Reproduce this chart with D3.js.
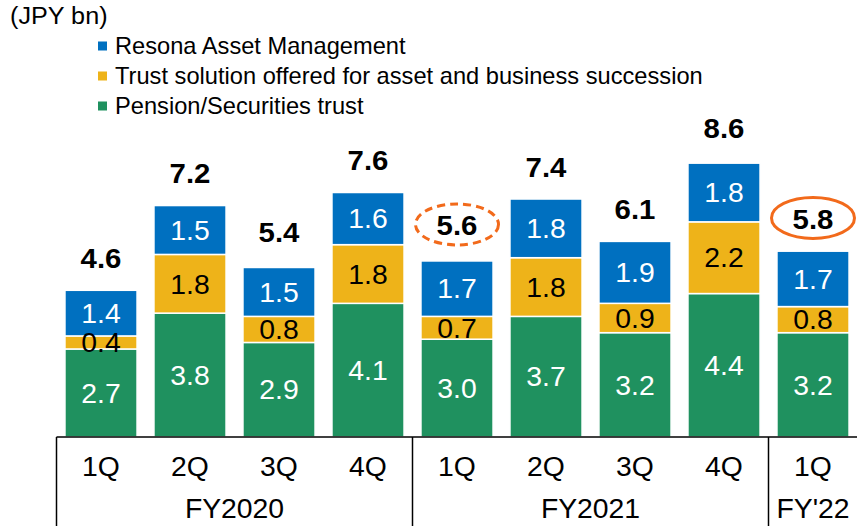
<!DOCTYPE html>
<html><head><meta charset="utf-8">
<script src="https://cdn.jsdelivr.net/npm/d3@7"></script>
<style>html,body{margin:0;padding:0;background:#fff;}svg{display:block;font-family:"Liberation Sans",Arial,sans-serif;}</style>
</head><body><svg id="c" width="857" height="527"></svg>
<script>
const categories = ["1Q","2Q","3Q","4Q","1Q","2Q","3Q","4Q","1Q"];
const groupLabels = ["FY2020","FY2021","FY'22"];
const groupSizes = [4,4,1];
const seriesNames = ["Pension/Securities trust","Trust solution offered for asset and business succession","Resona Asset Management"];
const pension = [2.7,3.8,2.9,4.1,3.0,3.7,3.2,4.4,3.2];
const trust   = [0.4,1.8,0.8,1.8,0.7,1.8,0.9,2.2,0.8];
const resona  = [1.4,1.5,1.5,1.6,1.7,1.8,1.9,1.8,1.7];
const totals  = [4.6,7.2,5.4,7.6,5.6,7.4,6.1,8.6,5.8];
const highlightIdx = [4,8];
const highlightDashed = [true,false];
const unitLabel = "(JPY bn)";

const colors = ["#1F915F","#EEB319","#0070C0"];
const labelColors = ["#fff","#000","#fff"];
const svg = d3.select("#c");
const baseY = 437;
const sx = 1.05;
const x = d3.scaleBand().domain(d3.range(categories.length)).range([56.5,857.5]).paddingInner(0.19).paddingOuter(0.095);
const y = d3.scaleLinear().domain([0,10]).range([baseY, baseY-326]);

function stretchText(sel, fx, fy){
  return sel.attr("transform",(d,i)=>`translate(${fx(d,i)},${fy(d,i)}) scale(${sx},1)`).attr("x",0).attr("y",0);
}

const rows = categories.map((c,i)=>({i, p:pension[i], t:trust[i], r:resona[i]}));
const stack = d3.stack().keys(["p","t","r"])(rows);

stack.forEach((layer,k)=>{
  svg.append("g").selectAll("rect").data(layer).enter().append("rect")
    .attr("x",d=>x(d.data.i)).attr("width",x.bandwidth())
    .attr("y",d=>y(d[1])).attr("height",d=>y(d[0])-y(d[1]))
    .attr("fill",colors[k]).attr("stroke","#fff").attr("stroke-width",1.5);
});
stack.forEach((layer,k)=>{
  stretchText(svg.append("g").selectAll("text").data(layer).enter().append("text"),
      d=>x(d.data.i)+x.bandwidth()/2, d=>(y(d[0])+y(d[1]))/2)
    .attr("dy","0.36em").attr("text-anchor","middle")
    .attr("font-size",27).attr("fill",labelColors[k])
    .text(d=>d3.format(".1f")(d[1]-d[0]));
});
// totals
stretchText(svg.append("g").selectAll("text").data(totals).enter().append("text"),
    (d,i)=>x(i)+x.bandwidth()/2, d=>y(d)-19)
  .attr("text-anchor","middle").attr("font-size",28).attr("font-weight","bold").attr("fill","#000")
  .text(d=>d3.format(".1f")(d));
// highlight ellipses
highlightIdx.forEach((i,j)=>{
  svg.append("ellipse").attr("cx",x(i)+x.bandwidth()/2).attr("cy",y(totals[i])-30)
    .attr("rx",41.5).attr("ry",20.5).attr("fill","none").attr("stroke","#F26A1B").attr("stroke-width",3)
    .attr("stroke-dasharray",highlightDashed[j]?"8,5":null);
});
// axis
const x0 = x.range()[0], x1 = x.range()[1];
svg.append("line").attr("x1",x0).attr("x2",x1).attr("y1",baseY).attr("y2",baseY).attr("stroke","#000").attr("stroke-width",1.5);
stretchText(svg.append("g").selectAll("text").data(categories).enter().append("text"),
    (d,i)=>x(i)+x.bandwidth()/2, ()=>476)
  .attr("text-anchor","middle").attr("font-size",27).attr("fill","#000").text(d=>d);
let start = 0;
const step = x.step();
const bounds = [x0];
groupSizes.forEach((n,g)=>{
  const a = x0 + start*step, b = x0 + (start+n)*step;
  svg.append("text").attr("transform",`translate(${(a+b)/2},518) scale(${sx},1)`).attr("text-anchor","middle")
    .attr("font-size",27).attr("fill","#000").text(groupLabels[g]);
  start += n;
  bounds.push(b);
});
bounds.slice(0,-1).forEach(bx=>{
  svg.append("line").attr("x1",bx).attr("x2",bx).attr("y1",baseY).attr("y2",526).attr("stroke","#000").attr("stroke-width",1.5);
});
// unit label & legend
svg.append("text").attr("transform",`translate(10,24) scale(${sx},1)`).attr("font-size",24).attr("fill","#000").text(unitLabel);
const legendOrder = [2,1,0];
legendOrder.forEach((k,j)=>{
  const ly = 46 + j*30;
  svg.append("rect").attr("x",98).attr("y",ly-4.5).attr("width",9).attr("height",9).attr("fill",colors[k]);
  svg.append("text").attr("transform",`translate(115,${ly}) scale(1.02,1)`).attr("dy","0.36em").attr("font-size",23.2).attr("fill","#000").text(seriesNames[k]);
});
</script></body></html>
